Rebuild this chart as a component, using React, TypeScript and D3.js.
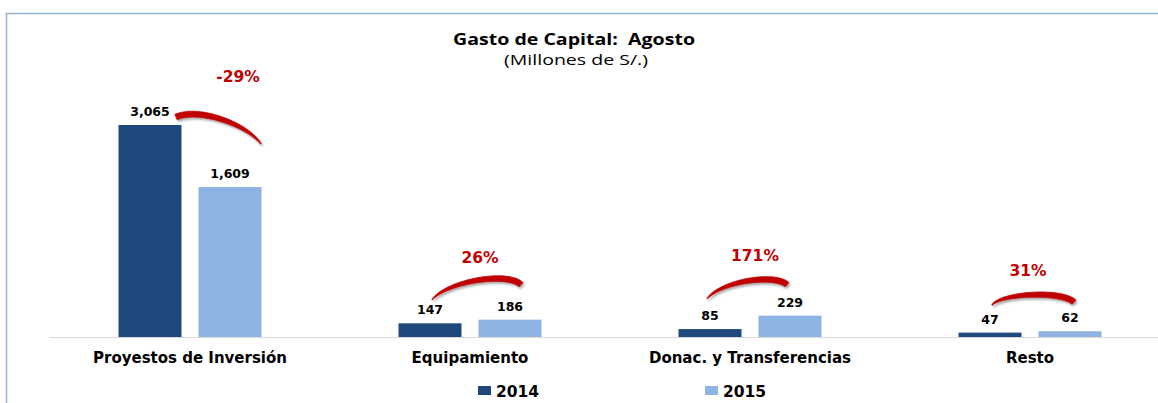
import React, { useRef, useEffect } from 'react';
import * as d3 from 'd3';

// chart data
const categories = ['Proyestos de Inversión', 'Equipamiento', 'Donac. y Transferencias', 'Resto'];
const years = ['2014', '2015'];
const values2014 = [3065, 147, 85, 47];
const values2015 = [1609, 186, 229, 62];
const changeLabels = ['-29%', '26%', '171%', '31%'];

// annotation layout (swoosh arcs + % label), offsets from group centre / top label
const arcLayout = [
  { p0: [71, 28], c1: [58, 9], c2: [10, -9], p3: [-14, 1], label: [48, -34] },
  { p0: [-38, -11], c1: [-22, -30], c2: [38, -39], p3: [51, -26], label: [10, -48] },
  { p0: [-43, -8], c1: [-28, -26], c2: [25, -33], p3: [37, -22], label: [5, -46] },
  { p0: [-38, -17], c1: [-30, -29], c2: [32, -32], p3: [44, -20], label: [-2, -46] },
];

const colors = ['#1f497d', '#8eb4e3'];
const W = 1158;
const H = 403;

const App = () => {
  const ref = useRef(null);

  useEffect(() => {
    d3.select(ref.current).selectAll('*').remove();

    const svg = d3.select(ref.current)
      .append('svg')
      .attr('width', W)
      .attr('height', H)
      .style('display', 'block')
      .style('background', '#fff');

    // shadow filter for the swooshes
    const defs = svg.append('defs');
    const f = defs.append('filter').attr('id', 'sh').attr('x', '-20%').attr('y', '-50%').attr('width', '140%').attr('height', '200%');
    f.append('feDropShadow').attr('dx', 1.5).attr('dy', 2).attr('stdDeviation', 1.2)
      .attr('flood-color', '#000').attr('flood-opacity', 0.35);

    // frame
    svg.append('path')
      .attr('d', `M6.5,${H} L6.5,13.5 L${W},13.5`)
      .attr('fill', 'none')
      .attr('stroke', '#95b3d7')
      .attr('stroke-width', 1.5);

    const sans = "'DejaVu Sans', Verdana, sans-serif";
    const title = "'Open Sans', Lato, sans-serif";

    // titles (source is stretched horizontally, so fit the widths)
    svg.append('text')
      .attr('x', 453).attr('y', 45)
      .attr('textLength', 242)
      .attr('lengthAdjust', 'spacingAndGlyphs')
      .style('font-family', title).style('font-weight', 700).style('font-size', '16.5px')
      .attr('fill', '#000')
      .attr('xml:space', 'preserve')
      .text('Gasto de Capital:  Agosto');
    svg.append('text')
      .attr('x', 504).attr('y', 64.5)
      .attr('textLength', 144)
      .attr('lengthAdjust', 'spacingAndGlyphs')
      .style('font-family', title).style('font-size', '14px')
      .attr('fill', '#000')
      .text('(Millones de S/.)');

    const baseY = 337;
    const x = d3.scaleBand().domain(categories).range([50, 1170]).padding(0);
    const x1 = d3.scaleBand().domain(years).range([0, 143]).paddingInner(17 / 80);
    const y = d3.scaleLinear().domain([0, 2275]).range([baseY, 125]).clamp(true);

    // axis line
    svg.append('line')
      .attr('x1', 50).attr('x2', W)
      .attr('y1', baseY + 0.5).attr('y2', baseY + 0.5)
      .attr('stroke', '#d9d9d9').attr('stroke-width', 1);

    const series = [values2014, values2015];
    const groups = svg.selectAll('.grp')
      .data(categories)
      .enter()
      .append('g')
      .attr('transform', d => `translate(${x(d) + x.bandwidth() / 2 - 71.5},0)`);

    years.forEach((yr, s) => {
      groups.append('rect')
        .attr('x', x1(yr))
        .attr('y', (d, i) => y(series[s][i]))
        .attr('width', x1.bandwidth())
        .attr('height', (d, i) => baseY - y(series[s][i]))
        .attr('fill', colors[s]);
      groups.append('text')
        .attr('x', x1(yr) + x1.bandwidth() / 2)
        .attr('y', (d, i) => y(series[s][i]) - 9)
        .attr('text-anchor', 'middle')
        .style('font-family', sans).style('font-weight', 700).style('font-size', '12.5px')
        .attr('fill', '#000')
        .text((d, i) => d3.format(',')(series[s][i]));
    });

    // category labels
    svg.selectAll('.cat')
      .data(categories)
      .enter()
      .append('text')
      .attr('x', d => x(d) + x.bandwidth() / 2)
      .attr('y', 363)
      .attr('text-anchor', 'middle')
      .style('font-family', sans).style('font-weight', 700).style('font-size', '15px')
      .attr('fill', '#000')
      .text(d => d);

    // swoosh arcs + % change
    const swoosh = (pts) => {
      const [p0, c1, c2, p3] = pts;
      const N = 40;
      const L = [], R = [];
      for (let k = 0; k <= N; k++) {
        const t = k / N, u = 1 - t;
        const px = u * u * u * p0[0] + 3 * u * u * t * c1[0] + 3 * u * t * t * c2[0] + t * t * t * p3[0];
        const py = u * u * u * p0[1] + 3 * u * u * t * c1[1] + 3 * u * t * t * c2[1] + t * t * t * p3[1];
        const dx = 3 * u * u * (c1[0] - p0[0]) + 6 * u * t * (c2[0] - c1[0]) + 3 * t * t * (p3[0] - c2[0]);
        const dy = 3 * u * u * (c1[1] - p0[1]) + 6 * u * t * (c2[1] - c1[1]) + 3 * t * t * (p3[1] - c2[1]);
        const len = Math.hypot(dx, dy) || 1;
        const nx = -dy / len, ny = dx / len;
        const w = (0.6 + 5.2 * Math.pow(Math.sin(Math.min(t * 1.15, 1) * Math.PI / 2), 0.8)) / 2;
        L.push([px + nx * w, py + ny * w]);
        R.push([px - nx * w, py - ny * w]);
      }
      return d3.line()(L.concat(R.reverse())) + 'Z';
    };

    categories.forEach((c, i) => {
      const cx = x(c) + x.bandwidth() / 2;
      const topY = Math.min(y(values2014[i]), y(values2015[i])) - 9;
      const a = arcLayout[i];
      const P = [a.p0, a.c1, a.c2, a.p3].map(p => [cx + p[0], topY + p[1]]);
      svg.append('path')
        .attr('d', swoosh(P))
        .attr('fill', '#c00000')
        .attr('stroke', '#c00000')
        .attr('stroke-width', 0.8)
        .attr('stroke-linejoin', 'round')
        .attr('filter', 'url(#sh)');
      svg.append('text')
        .attr('x', cx + a.label[0])
        .attr('y', topY + a.label[1])
        .attr('text-anchor', 'middle')
        .style('font-family', sans).style('font-weight', 700).style('font-size', '15.5px')
        .attr('fill', '#c00000')
        .text(changeLabels[i]);
    });

    // legend
    const legX = [478, 705];
    years.forEach((yr, s) => {
      svg.append('rect')
        .attr('x', legX[s]).attr('y', 386)
        .attr('width', 13).attr('height', 9)
        .attr('fill', colors[s]);
      svg.append('text')
        .attr('x', legX[s] + 18).attr('y', 397)
        .style('font-family', sans).style('font-weight', 700).style('font-size', '15.5px')
        .attr('fill', '#000')
        .text(yr);
    });
  }, []);

  return <div ref={ref} style={{ position: 'absolute', left: 0, top: 0 }}></div>;
};

export default App;
